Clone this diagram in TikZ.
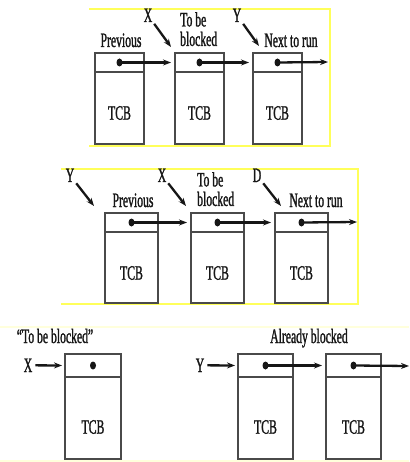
\documentclass[tikz,border=0pt]{standalone}
\usepackage{fontspec}
\setmainfont[FakeStretch=0.57, FakeBold=1.2]{Liberation Serif}
\usetikzlibrary{arrows.meta, positioning}
\definecolor{frameyellow}{HTML}{FFFF5A}
\definecolor{paleyellow}{HTML}{FFFFDC}
\definecolor{boxgrey}{HTML}{4A4A4A}
\definecolor{inkgrey}{HTML}{161616}

\begin{document}
\begin{tikzpicture}[x=1pt, y=-1pt,
  every node/.style={font=\fontsize{20.5}{19.5}\selectfont, text=inkgrey, inner sep=0pt},
  cell/.style={rectangle, draw=boxgrey, line width=1.3pt, outer sep=0pt, anchor=north west},
  body/.style={rectangle, draw=boxgrey, line width=1.3pt, outer sep=0pt},
  ptr/.style={-{Stealth[length=8pt, width=6pt]}, line width=2.3pt, inkgrey},
  dot/.style={fill=inkgrey},
  frame/.style={frameyellow, line width=2.6pt},
  rule/.style={paleyellow, line width=1.8pt}
]
\useasboundingbox (0,0) rectangle (409,462);

% Yellow frames round the first two lists
\draw[frame] (89,9) -- (330,9) -- (330,146) -- (89,146);
\draw[frame] (61,169) -- (358,169) -- (358,304) -- (61,304);
\draw[rule] (0,327) -- (409,327);
\draw[rule] (0,461) -- (409,461);

% ---- first list: before blocking ----
\begin{scope}[cell/.append style={minimum width=49pt, minimum height=19pt},
              body/.append style={minimum width=49pt, minimum height=72pt}]
\node[cell] (p1) at (95,53) {};
\node[body, below=0pt of p1] (b1) {};
\node[cell, right=31pt of p1] (p2) {};
\node[body, below=0pt of p2] (b2) {};
\node[cell, right=29pt of p2] (p3) {};
\node[body, below=0pt of p3] (b3) {};
\end{scope}

\node (tcb1) at ([yshift=-5pt]b1.center) {TCB};
\node (tcb2) at ([yshift=-5pt]b2.center) {TCB};
\node (tcb3) at ([yshift=-5pt]b3.center) {TCB};

\node[anchor=base] (prev1) at (121,47) {Previous};
\node[anchor=north west, align=left] (blk1) at (180,12) {To be\\blocked};
\node[anchor=base] (next1) at (291,47) {Next to run};
\node[anchor=base] (x1) at (148,22) {X};
\node[anchor=base] (y1) at (237,22) {Y};
\coordinate (xt1) at (171,47);
\coordinate (yt1) at (259,46);
\coordinate (e1) at (328,62);

\draw[ptr, shorten <=3pt] (x1) -- (xt1);
\draw[ptr, shorten <=3pt] (y1) -- (yt1);
\foreach \c in {p1,p2,p3} \fill[dot] (\c.center) ellipse [x radius=3, y radius=4];
\draw[ptr, shorten >=4pt] (p1.center) -- (p2.west);
\draw[ptr, shorten >=4pt] (p2.center) -- (p3.west);
\draw[ptr] (p3.center) -- (e1);

% ---- second list: pointers moved on ----
\begin{scope}[cell/.append style={minimum width=53pt, minimum height=19pt},
              body/.append style={minimum width=53pt, minimum height=71pt}]
\node[cell] (p4) at (105,213) {};
\node[body, below=0pt of p4] (b4) {};
\node[cell, right=33pt of p4] (p5) {};
\node[body, below=0pt of p5] (b5) {};
\node[cell, right=31pt of p5] (p6) {};
\node[body, below=0pt of p6] (b6) {};
\end{scope}

\node (tcb4) at ([yshift=-5.5pt]b4.center) {TCB};
\node (tcb5) at ([yshift=-5.5pt]b5.center) {TCB};
\node (tcb6) at ([yshift=-5.5pt]b6.center) {TCB};

\node[anchor=base] (prev2) at (133,207) {Previous};
\node[anchor=north west, align=left] (blk2) at (197,172) {To be\\blocked};
\node[anchor=base] (next2) at (316,207) {Next to run};
\node[anchor=base] (y2) at (70,182) {Y};
\node[anchor=base] (x2) at (162,182) {X};
\node[anchor=base] (d2) at (257,182) {D};
\coordinate (yt2) at (94,206);
\coordinate (xt2) at (186,206);
\coordinate (dt2) at (281,206);
\coordinate (e2) at (357,222);

\draw[ptr, shorten <=3pt] (y2) -- (yt2);
\draw[ptr, shorten <=3pt] (x2) -- (xt2);
\draw[ptr, shorten <=3pt] (d2) -- (dt2);
\foreach \c in {p4,p5,p6} \fill[dot] (\c.center) ellipse [x radius=3, y radius=4];
\draw[ptr, shorten >=4pt] (p4.center) -- (p5.west);
\draw[ptr, shorten >=4pt] (p5.center) -- (p6.west);
\draw[ptr] (p6.center) -- (e2);

% ---- third row: blocked task and the blocked list ----
\begin{scope}[cell/.append style={minimum height=23pt},
              body/.append style={minimum height=82pt}]
\node[cell, minimum width=56pt] (p7) at (65,354) {};
\node[body, minimum width=56pt, below=0pt of p7] (b7) {};
\node[cell, minimum width=55pt] (p8) at (238,354) {};
\node[body, minimum width=55pt, below=0pt of p8] (b8) {};
\node[cell, minimum width=55pt, right=33pt of p8] (p9) {};
\node[body, minimum width=55pt, below=0pt of p9] (b9) {};
\end{scope}

\node (tcb7) at ([yshift=-9pt]b7.center) {TCB};
\node (tcb8) at ([yshift=-9pt]b8.center) {TCB};
\node (tcb9) at ([yshift=-9pt]b9.center) {TCB};

\node[anchor=base] (tbb) at (55,343) {``To be blocked''};
\node[anchor=base] (alb) at (309,343) {Already blocked};
\node[anchor=base] (x3) at (28,372) {X};
\node[anchor=base] (y3) at (200,372) {Y};
\coordinate (e3) at (409,366);

\draw[ptr, shorten <=3pt, shorten >=3pt] (x3) -- (p7.west);
\draw[ptr, shorten <=3pt, shorten >=3pt] (y3) -- (p8.west);
\foreach \c in {p7,p8,p9} \fill[dot] (\c.center) ellipse [x radius=3, y radius=4];
\draw[ptr, shorten >=4pt] (p8.center) -- (p9.west);
\draw[ptr] (p9.center) -- (e3);
\end{tikzpicture}
\end{document}
